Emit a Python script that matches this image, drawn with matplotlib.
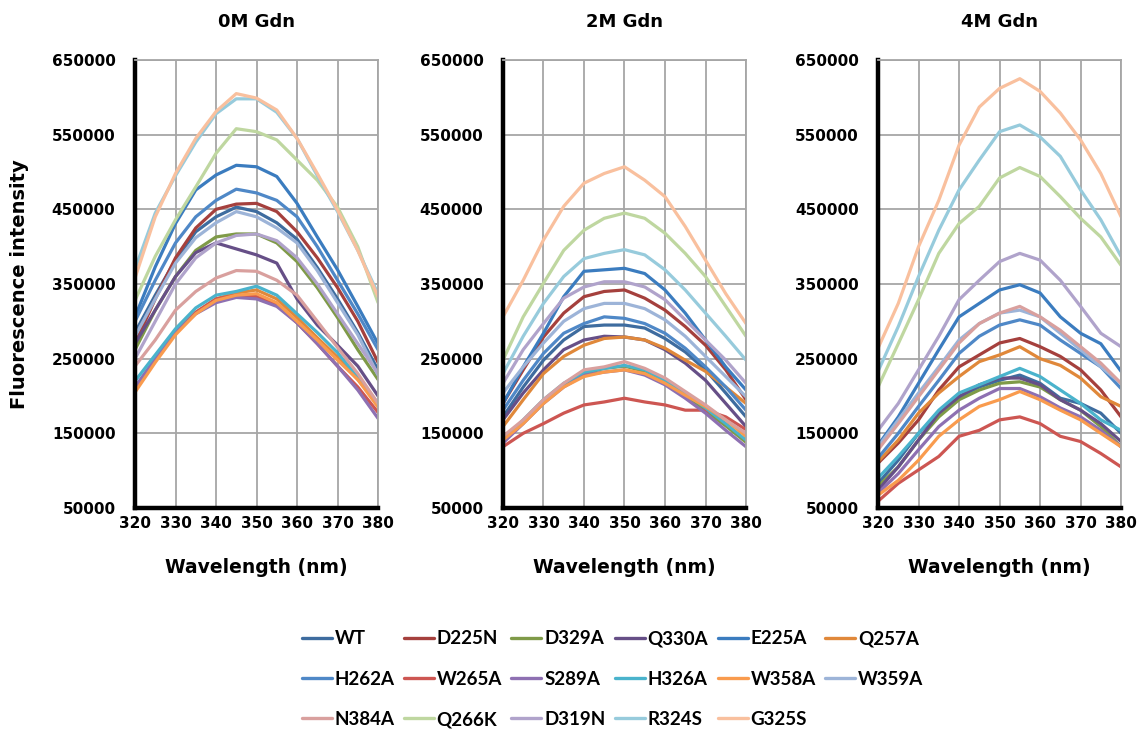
import matplotlib
matplotlib.use("Agg")
import matplotlib.pyplot as plt

# wavelength grid (nm) the curves were read at
wavelengths = [320, 325, 330, 335, 340, 345, 350, 355, 360, 365, 370, 375, 380]

mutants = ["WT", "D225N", "D329A", "Q330A", "E225A", "Q257A",
           "H262A", "W265A", "S289A", "H326A", "W358A", "W359A",
           "N384A", "Q266K", "D319N", "R324S", "G325S"]

colors = ["#3E6C9F", "#A5403D", "#7F9A48", "#664F87", "#3B7CBF", "#E0883A",
          "#4F88C7", "#CD5652", "#8E70B2", "#4AB3CC", "#F99B4E", "#9DB4D8",
          "#D9A09E", "#BFD7A0", "#B0A3CB", "#97CBDC", "#F9C09E"]

# fluorescence intensity in thousands
gdn_0m = {
    "WT":    [285, 335, 382, 420, 440, 453, 447, 432, 410, 372, 330, 285, 235],
    "D225N": [270, 330, 385, 425, 450, 457, 458, 447, 420, 385, 345, 300, 245],
    "D329A": [262, 315, 360, 395, 413, 417, 417, 405, 380, 345, 305, 262, 222],
    "Q330A": [270, 315, 360, 392, 405, 397, 389, 378, 330, 295, 268, 240, 200],
    "E225A": [306, 373, 431, 476, 496, 509, 507, 494, 458, 413, 369, 320, 270],
    "Q257A": [210, 248, 285, 312, 330, 338, 342, 330, 305, 278, 252, 222, 190],
    "H262A": [300, 355, 405, 440, 462, 477, 472, 462, 440, 400, 355, 310, 262],
    "W265A": [210, 248, 285, 312, 330, 335, 333, 322, 298, 270, 240, 212, 178],
    "S289A": [212, 250, 285, 310, 325, 332, 330, 320, 298, 270, 240, 208, 170],
    "H326A": [220, 255, 290, 318, 335, 340, 347, 335, 310, 285, 258, 225, 190],
    "W358A": [205, 245, 282, 310, 328, 335, 337, 325, 300, 275, 248, 222, 185],
    "W359A": [280, 330, 378, 412, 432, 447, 440, 425, 405, 368, 325, 282, 228],
    "N384A": [240, 275, 315, 340, 358, 368, 367, 355, 335, 300, 265, 230, 190],
    "Q266K": [328, 387, 436, 480, 525, 558, 554, 543, 516, 489, 453, 400, 325],
    "D319N": [250, 300, 350, 385, 405, 415, 417, 408, 385, 350, 310, 270, 230],
    "R324S": [370, 445, 495, 540, 578, 598, 598, 580, 545, 495, 447, 395, 337],
    "G325S": [358, 440, 498, 545, 581, 605, 599, 583, 545, 498, 449, 395, 333],
}

gdn_2m = {
    "WT":    [172, 212, 248, 275, 293, 295, 295, 291, 277, 259, 235, 204, 172],
    "D225N": [190, 235, 279, 311, 333, 340, 342, 331, 315, 293, 268, 235, 195],
    "D329A": [140, 166, 192, 215, 230, 237, 240, 233, 220, 202, 180, 160, 138],
    "Q330A": [168, 204, 235, 262, 275, 280, 279, 275, 262, 244, 221, 190, 159],
    "E225A": [190, 239, 284, 333, 367, 369, 371, 364, 342, 311, 275, 239, 208],
    "Q257A": [159, 195, 230, 253, 268, 277, 279, 275, 264, 248, 233, 212, 190],
    "H262A": [181, 221, 257, 284, 297, 306, 304, 297, 284, 264, 239, 212, 181],
    "W265A": [132, 150, 163, 177, 188, 192, 197, 192, 188, 181, 181, 172, 155],
    "S289A": [137, 163, 190, 212, 228, 232, 235, 228, 215, 197, 177, 154, 132],
    "H326A": [141, 168, 195, 217, 232, 237, 241, 235, 221, 204, 184, 163, 141],
    "W358A": [141, 163, 190, 212, 226, 232, 235, 230, 217, 201, 186, 168, 146],
    "W359A": [204, 239, 271, 300, 317, 324, 324, 317, 302, 280, 253, 226, 199],
    "N384A": [146, 168, 195, 217, 235, 239, 246, 237, 224, 206, 188, 168, 150],
    "Q266K": [248, 306, 351, 395, 422, 438, 445, 438, 418, 391, 360, 320, 280],
    "D319N": [217, 262, 297, 331, 346, 353, 353, 346, 329, 302, 275, 248, 217],
    "R324S": [230, 280, 324, 360, 384, 391, 396, 389, 369, 342, 311, 280, 248],
    "G325S": [306, 355, 409, 454, 485, 498, 507, 489, 467, 427, 382, 337, 297],
}

gdn_4m = {
    "WT":    [83, 114, 150, 177, 199, 212, 221, 228, 217, 197, 190, 177, 150],
    "D225N": [110, 137, 168, 208, 239, 255, 271, 277, 266, 253, 235, 208, 172],
    "D329A": [79, 105, 141, 172, 195, 208, 217, 219, 212, 195, 181, 159, 132],
    "Q330A": [74, 105, 141, 177, 199, 215, 224, 224, 215, 195, 181, 163, 139],
    "E225A": [134, 172, 217, 262, 306, 324, 342, 349, 338, 306, 284, 270, 233],
    "Q257A": [112, 141, 177, 204, 226, 246, 255, 266, 250, 241, 224, 199, 186],
    "H262A": [117, 150, 186, 221, 257, 280, 295, 302, 295, 275, 257, 239, 210],
    "W265A": [59, 83, 101, 119, 146, 154, 168, 172, 163, 146, 139, 123, 105],
    "S289A": [70, 96, 128, 159, 181, 197, 210, 210, 199, 184, 172, 154, 132],
    "H326A": [90, 119, 150, 181, 204, 215, 226, 237, 226, 208, 190, 168, 154],
    "W358A": [67, 87, 114, 146, 168, 186, 195, 206, 195, 181, 168, 150, 132],
    "W359A": [132, 168, 204, 239, 275, 297, 311, 315, 306, 284, 262, 239, 217],
    "N384A": [128, 163, 199, 235, 271, 297, 311, 320, 306, 288, 266, 244, 217],
    "Q266K": [212, 270, 329, 391, 431, 454, 492, 506, 494, 467, 438, 413, 375],
    "D319N": [154, 190, 235, 280, 329, 355, 380, 391, 382, 355, 320, 284, 266],
    "R324S": [233, 293, 360, 422, 476, 516, 554, 563, 547, 521, 476, 436, 387],
    "G325S": [264, 324, 400, 462, 536, 587, 612, 625, 608, 579, 543, 498, 440],
}

panels = [("0M Gdn", gdn_0m), ("2M Gdn", gdn_2m), ("4M Gdn", gdn_4m)]
yticks = [50000, 150000, 250000, 350000, 450000, 550000, 650000]
xticks = [320, 330, 340, 350, 360, 370, 380]

fig = plt.figure(figsize=(11.47, 7.31), dpi=100)
lefts = [0.1177, 0.4385, 0.7655]
grid_col = "#A6A6A6"

lines = {}
for i, (title, data) in enumerate(panels):
    ax = fig.add_axes([lefts[i], 0.3051, 0.2119, 0.6128])
    for name, col in zip(mutants, colors):
        vals = [v * 1000 for v in data[name]]
        ln, = ax.plot(wavelengths, vals, color=col, lw=2.3, label=name,
                      solid_capstyle="round")
        lines[name] = ln
    ax.set_xlim(320, 380)
    ax.set_ylim(50000, 650000)
    ax.set_xticks(xticks)
    ax.set_yticks(yticks)
    ax.set_yticklabels([str(t) for t in yticks])
    ax.grid(True, color=grid_col, lw=1.3)
    ax.set_axisbelow(True)
    for s in ["top", "right"]:
        ax.spines[s].set_color(grid_col)
        ax.spines[s].set_linewidth(1.3)
    for s in ["left", "bottom"]:
        ax.spines[s].set_color("black")
        ax.spines[s].set_linewidth(3.2)
    ax.tick_params(axis="y", length=0, pad=14, labelsize=11)
    ax.tick_params(axis="x", length=0, pad=6, labelsize=11)
    for lab in ax.get_xticklabels() + ax.get_yticklabels():
        lab.set_fontweight("bold")
    ax.set_title(title, fontsize=13, fontweight="bold", pad=24)
    ax.set_xlabel("Wavelength (nm)", fontsize=13.5, fontweight="bold", labelpad=19)
    if i == 0:
        ax.set_ylabel("Fluorescence intensity", fontsize=14, fontweight="bold",
                      labelpad=16)

# legend reads row-wise in the original; matplotlib fills columns first
order = ["WT", "H262A", "N384A", "D225N", "W265A", "Q266K",
         "D329A", "S289A", "D319N", "Q330A", "H326A", "R324S",
         "E225A", "W358A", "G325S", "Q257A", "W359A"]
leg = fig.legend([lines[n] for n in order], order, loc="center",
                 bbox_to_anchor=(0.534, 0.071), ncol=6, frameon=False,
                 prop={"family": "Lato", "weight": "bold", "size": 13.5},
                 handlelength=1.6, handletextpad=0.15, columnspacing=0.5,
                 labelspacing=1.25)
for h in leg.legend_handles:
    h.set_linewidth(2.4)

fig.savefig("out.png", dpi=100)
